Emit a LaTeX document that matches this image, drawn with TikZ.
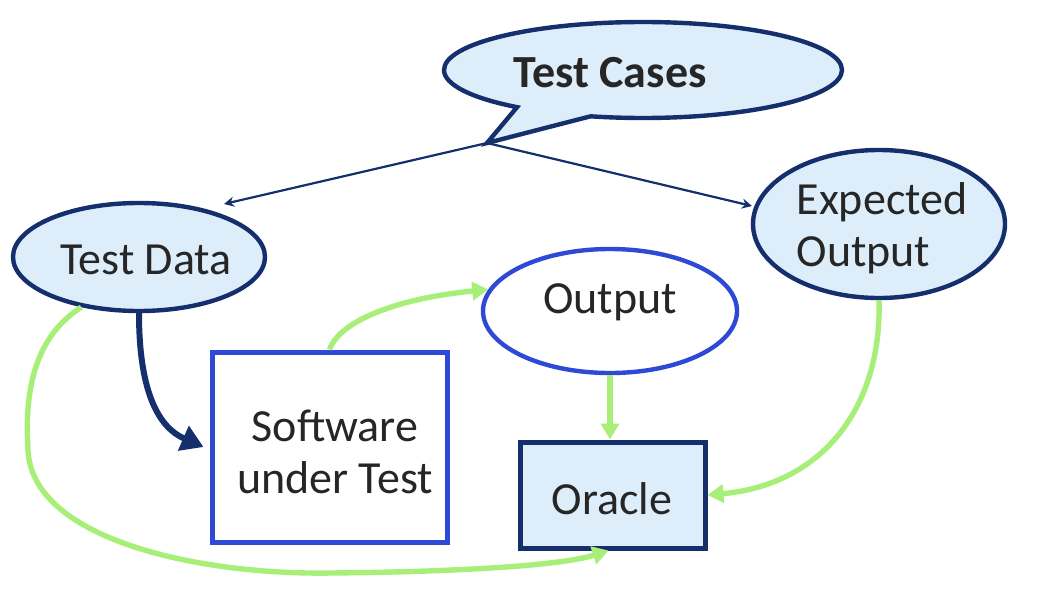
\documentclass[tikz,border=0pt]{standalone}
\usepackage{fontspec}
\setmainfont{Carlito}
\usetikzlibrary{shapes.geometric,shapes.callouts,arrows.meta}
\definecolor{lblue}{HTML}{DDEEFA}
\definecolor{navy}{HTML}{152F6D}
\definecolor{bblue}{HTML}{2D49D6}
\definecolor{lgreen}{HTML}{A8EF7A}
\tikzset{
  txt/.style={font=\fontsize{23}{26}\selectfont, text=black!85, align=center},
  bubble/.style={ellipse, draw=navy, line width=2.2pt, fill=lblue, inner sep=0pt},
  outell/.style={ellipse, draw=bblue, line width=2.2pt, fill=white, inner sep=0pt},
  sutbox/.style={rectangle, draw=bblue, line width=2.5pt, fill=white, inner sep=0pt},
  orbox/.style={rectangle, draw=navy, line width=2.5pt, fill=lblue, inner sep=0pt},
  thinarrow/.style={draw=navy, line width=1.1pt, -{Stealth[length=5pt,width=5pt]}},
  navyarrow/.style={draw=navy, line width=3pt, -{Triangle[length=11pt,width=13pt]}},
  greenarrow/.style={draw=lgreen, line width=2.7pt, -{Triangle[length=8pt,width=9pt]}}
}
\begin{document}
\begin{tikzpicture}[x=0.5pt,y=-0.5pt]
\useasboundingbox (0,0) rectangle (1047,594);
% Test Cases callout
\node[ellipse callout, draw=navy, line width=2.2pt, fill=lblue, inner sep=0pt,
      minimum width=199pt, minimum height=48pt,
      callout absolute pointer={(487,143)}, callout pointer arc=24] (tc) at (643,70) {};
\node[txt, font=\fontsize{23}{26}\selectfont\bfseries] (tctext) at (610,73) {Test Cases};
\coordinate (tip) at (487,143);
% nodes
\node[bubble, minimum width=126pt, minimum height=54pt] (td) at (139,257) {};
\node[txt] (tdtext) at (146,260) {Test Data};
\node[bubble, minimum width=126pt, minimum height=74pt] (eo) at (879,224) {};
\node[txt, align=left] (eotext) at (882,228) {Expected\\Output};
\node[outell, minimum width=127pt, minimum height=62pt] (out) at (610,311) {};
\node[txt] (outtext) at (610,302) {Output};
\node[sutbox, minimum width=117.5pt, minimum height=95pt] (sut) at (329.5,447) {};
\node[txt] (suttext) at (335,452) {Software\\under Test};
\node[orbox, minimum width=92.5pt, minimum height=53pt] (or) at (612.5,495) {};
\node[txt] (ortext) at (612,499) {Oracle};
% endpoints
\coordinate (tdin) at (224,204);
\coordinate (eoin) at (752,206);
% thin arrows
\draw[thinarrow] (tip) -- (tdin);
\draw[thinarrow] (tip) -- (eoin);
% navy thick arrow
\draw[navyarrow] (td.south) .. controls (139,395) and (160,428) .. ([xshift=-3pt]sut.west);
% green arrows
\draw[greenarrow] (sut.north) .. controls (340,320) and (400,298) .. (out.170);
\draw[greenarrow] (out.south) -- (out.south |- or.north);
\draw[greenarrow] (eo.south) .. controls (882,410) and (820,485) .. (or.east);
\draw[greenarrow] (td.221) .. controls (30,340) and (25,400) .. (28,450)
   .. controls (32,540) and (200,575) .. (330,573)
   .. controls (450,572) and (560,566) .. ([xshift=-2pt]or.south);
\end{tikzpicture}
\end{document}
